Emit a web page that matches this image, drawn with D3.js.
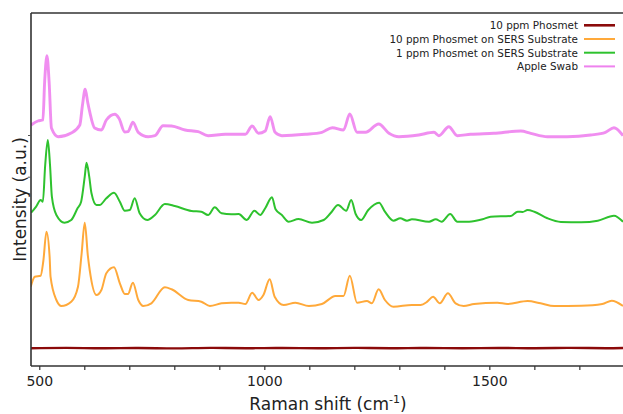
<!DOCTYPE html>
<html>
<head>
<meta charset="utf-8">
<script src="https://cdn.jsdelivr.net/npm/d3@7"></script>
<style>
  html, body { margin: 0; padding: 0; background: #fff; }
  svg { display: block; }
  text { font-family: "DejaVu Sans", sans-serif; fill: #222; }
</style>
</head>
<body>
<svg id="chart" width="623" height="414"></svg>
<script>
// ---- Data (Raman shift in cm^-1, intensity in a.u., offset-stacked as in the figure) ----
const seriesNames = [
  "10 ppm Phosmet",
  "10 ppm Phosmet on SERS Substrate",
  "1 ppm Phosmet on SERS Substrate",
  "Apple Swab"
];

const phosmet10 = [
  [481, 17.8], [560, 18.1], [640, 17.7], [720, 18.0], [800, 17.6], [880, 18.1],
  [960, 17.8], [1040, 18.0], [1120, 17.7], [1200, 18.1], [1280, 17.8], [1360, 18.0],
  [1440, 17.7], [1520, 18.0], [1600, 17.8], [1680, 18.1], [1760, 17.8], [1797, 18.0]
];

const sers10 = [
  [481, 79.3], [490, 89.3], [503, 90.3], [509, 105], [516, 134.3], [523, 109], [525, 89.3],
  [538, 66], [549, 60], [571, 64.3], [586, 79.3], [594, 112], [601, 143.3], [608, 110],
  [612, 96], [627, 71], [638, 76], [649, 92.7], [666, 98.7], [679, 82.7], [690, 72],
  [697, 72], [708, 83.3], [720, 66], [731, 60], [749, 62.7], [779, 78.7], [794, 76.7],
  [831, 66], [860, 64.3], [879, 60], [905, 62.7], [927, 63.3], [943, 63.3], [958, 62],
  [973, 73.3], [987, 66], [998, 71], [1012, 86.7], [1023, 69.3], [1043, 61], [1069, 63.3],
  [1099, 60], [1128, 62], [1158, 70], [1176, 70], [1190, 90.3], [1206, 63.3], [1228, 65],
  [1239, 62.7], [1254, 76.7], [1268, 66], [1287, 59.3], [1328, 61], [1347, 61], [1362, 64.3],
  [1375, 69.3], [1390, 62.7], [1408, 72.7], [1425, 62.7], [1443, 60], [1466, 62], [1518, 63.3],
  [1540, 62], [1585, 65], [1614, 62.7], [1644, 60], [1704, 60.3], [1751, 62], [1772, 65.3],
  [1797, 60]
];

const sers1 = [
  [482, 153.3], [493, 159.3], [503, 166], [508, 164.3], [513, 200], [519, 226], [524, 200],
  [528, 169.3], [538, 151], [556, 143.3], [571, 146], [585, 157.7], [593, 164.3], [601, 189.3],
  [605, 203.3], [611, 189.3], [616, 172.7], [627, 161], [634, 161], [649, 167.7], [666, 173.3],
  [679, 164.3], [690, 155.3], [701, 156], [712, 167.7], [723, 152.7], [740, 146], [757, 151],
  [779, 162], [801, 160], [838, 155], [860, 154.3], [875, 151], [890, 158.7], [905, 152.7],
  [927, 151.7], [943, 152], [961, 146], [978, 155.3], [991, 151], [1002, 157.7], [1017, 168.7],
  [1025, 156.7], [1039, 151], [1054, 144.3], [1076, 147], [1106, 143.3], [1132, 146],
  [1147, 152.7], [1164, 161], [1182, 155.3], [1193, 166], [1203, 152], [1215, 146], [1231, 156],
  [1255, 163.3], [1268, 154.3], [1287, 145.3], [1302, 147.7], [1317, 145.3], [1328, 146.7],
  [1366, 144.3], [1381, 146.7], [1394, 144.3], [1413, 152], [1429, 144.3], [1455, 144.3],
  [1485, 146.7], [1503, 149.3], [1548, 150], [1563, 154.3], [1574, 154], [1585, 156],
  [1600, 154.3], [1629, 147.7], [1659, 144], [1704, 143.7], [1741, 145.3], [1777, 150.3],
  [1797, 144.3]
];

const appleSwab = [
  [482, 241], [497, 245], [508, 246], [512, 285], [517, 310.3], [522, 283], [527, 238],
  [542, 229.3], [571, 233], [590, 241], [596, 261], [602, 276.7], [608, 262.7], [612, 254.3],
  [623, 238], [638, 236], [649, 246], [668, 251.7], [677, 247.7], [690, 234], [697, 234.3],
  [708, 243.7], [720, 233.7], [742, 229.3], [757, 230.3], [775, 240.3], [794, 240], [824, 236],
  [853, 234.3], [875, 230.3], [913, 231.7], [958, 231.7], [973, 240], [987, 232.7], [1002, 235],
  [1013, 249.3], [1024, 233.7], [1039, 230.3], [1091, 231.7], [1128, 233.7], [1151, 238.3],
  [1176, 236], [1190, 252], [1206, 233.7], [1225, 233.7], [1254, 242], [1277, 232.7],
  [1299, 229.3], [1343, 231], [1377, 233.7], [1388, 230.3], [1410, 239.3], [1429, 230.3],
  [1458, 231.7], [1510, 232.7], [1570, 235], [1592, 232.7], [1629, 229.3], [1673, 229.3],
  [1725, 231], [1758, 233.7], [1777, 238.3], [1797, 230.3]
];

const xTicks = [500, 600, 700, 800, 900, 1000, 1100, 1200, 1300, 1400, 1500, 1600, 1700];
const xTickLabels = [500, 1000, 1500];
const yTickMarks = [231, 189.3, 172.7];

// ---- Layout ----
const svg = d3.select("#chart");
const margin = { left: 31, top: 13, right: 0, bottom: 48 };
const W = 623, H = 414;

const x = d3.scaleLinear().domain([481.6, 1797]).range([margin.left, W - margin.right]);
const y = d3.scaleLinear().domain([0, 353]).range([H - margin.bottom, margin.top]);

const colors = ["#8b0a0a", "#ffa93a", "#2ec22e", "#ee82ee"];
const widths = [2.4, 2, 2, 2.9];
const data = [phosmet10, sers10, sers1, appleSwab];

// clip
svg.append("defs").append("clipPath").attr("id", "clip")
  .append("rect").attr("x", margin.left).attr("y", margin.top)
  .attr("width", W - margin.left).attr("height", H - margin.bottom - margin.top);

const line = d3.line()
  .x(d => x(d[0])).y(d => y(d[1]))
  .curve(d3.curveMonotoneX);

const g = svg.append("g").attr("clip-path", "url(#clip)");
[3, 2, 1, 0].forEach(i => {
  g.append("path")
    .datum(data[i])
    .attr("fill", "none")
    .attr("stroke", colors[i])
    .attr("stroke-width", widths[i])
    .attr("stroke-opacity", i === 3 ? 0.9 : 1)
    .attr("stroke-linejoin", "round")
    .attr("d", line);
});

// frame: top border
svg.append("line")
  .attr("x1", margin.left).attr("x2", W)
  .attr("y1", y(353)).attr("y2", y(353))
  .attr("stroke", "#333").attr("stroke-width", 1.6);

// x axis
const xAxis = d3.axisBottom(x)
  .tickValues(xTicks)
  .tickSize(4)
  .tickFormat(d => xTickLabels.includes(d) ? d : "");
const gx = svg.append("g")
  .attr("transform", `translate(0,${y(0)})`)
  .call(xAxis);
gx.select(".domain").attr("stroke", "#333").attr("stroke-width", 1.6)
  .attr("d", `M${margin.left},0H${W}`);
gx.selectAll(".tick line").attr("stroke", "#333").attr("stroke-width", 1.2);
gx.selectAll(".tick text")
  .attr("font-family", "DejaVu Sans, sans-serif")
  .attr("font-size", 14).attr("fill", "#222").attr("dy", "0.95em");

// y axis (no labels)
const yAxis = d3.axisLeft(y).tickValues(yTickMarks).tickSize(3).tickFormat("");
const gy = svg.append("g")
  .attr("transform", `translate(${margin.left},0)`)
  .call(yAxis);
gy.select(".domain").attr("stroke", "#333").attr("stroke-width", 1.6)
  .attr("d", `M0,${y(0)}V${y(353)}`);
gy.selectAll(".tick line").attr("stroke", "#555").attr("stroke-width", 1);

// axis titles
const xt = svg.append("text")
  .attr("x", 328).attr("y", 410)
  .attr("text-anchor", "middle")
  .attr("font-size", 17);
xt.append("tspan").text("Raman shift (cm");
xt.append("tspan").attr("font-size", 11).attr("dy", -7).text("-1");
xt.append("tspan").attr("dy", 7).text(")");

svg.append("text")
  .attr("transform", `translate(26,${(y(0) + y(353)) / 2 + 10}) rotate(-90)`)
  .attr("text-anchor", "middle")
  .attr("font-size", 17)
  .text("Intensity (a.u.)");

// legend
const legendY0 = 25.3, legendDy = 13.7;
const legend = svg.append("g");
seriesNames.forEach((name, i) => {
  const yy = legendY0 + i * legendDy;
  legend.append("text")
    .attr("x", 578).attr("y", yy + 3.8)
    .attr("text-anchor", "end")
    .attr("font-size", 10.4)
    .attr("fill", "#333")
    .text(name);
  legend.append("line")
    .attr("x1", 584).attr("x2", 615)
    .attr("y1", yy).attr("y2", yy)
    .attr("stroke", colors[i])
    .attr("stroke-width", i === 0 ? 2.6 : 2);
});
</script>
</body>
</html>
